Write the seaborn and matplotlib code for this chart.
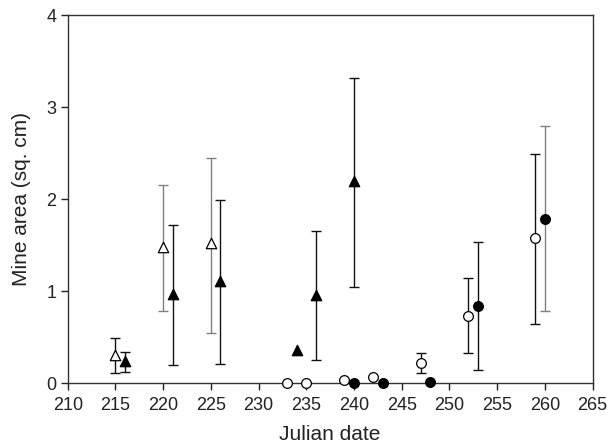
import matplotlib
matplotlib.use("Agg")
import matplotlib.pyplot as plt
import seaborn as sns
import pandas as pd
import numpy as np

# Open triangles
ot_x = [215, 220, 225]
ot_y = [0.31, 1.48, 1.52]
ot_lo = [0.11, 0.79, 0.55]
ot_hi = [0.49, 2.16, 2.45]

# Filled triangles
ft_x = [216, 221, 226, 234, 236, 240]
ft_y = [0.24, 0.97, 1.11, 0.36, 0.96, 2.20]
ft_lo = [0.12, 0.20, 0.21, 0.36, 0.25, 1.05]
ft_hi = [0.34, 1.72, 1.99, 0.36, 1.65, 3.32]

# Open circles
oc_x = [233, 235, 239, 242, 247, 252, 259]
oc_y = [0.0, 0.0, 0.04, 0.07, 0.22, 0.73, 1.58]
oc_lo = [0.0, 0.0, 0.04, 0.07, 0.11, 0.33, 0.65]
oc_hi = [0.0, 0.0, 0.04, 0.07, 0.33, 1.14, 2.49]

# Filled circles
fc_x = [240, 243, 248, 253, 260]
fc_y = [0.0, 0.0, 0.01, 0.84, 1.79]
fc_lo = [0.0, 0.0, 0.01, 0.15, 0.79]
fc_hi = [0.0, 0.0, 0.01, 1.54, 2.80]

x_ticks = list(range(210, 266, 5))
y_ticks = [0, 1, 2, 3, 4]

sns.set_style("ticks")
plt.rcParams['font.family'] = ['Liberation Sans', 'DejaVu Sans']

fig = plt.figure(figsize=(6.11, 4.47), dpi=100)
ax = fig.add_axes([0.1108, 0.1425, 0.859, 0.8233])

series = [
    ("ot", ot_x, ot_y, ot_lo, ot_hi, "^", "white", ["#111111", "#808080", "#808080"], 7.5),
    ("ft", ft_x, ft_y, ft_lo, ft_hi, "^", "black", ["#111111"] * 6, 7.5),
    ("oc", oc_x, oc_y, oc_lo, oc_hi, "o", "white", ["#111111"] * 7, 7),
    ("fc", fc_x, fc_y, fc_lo, fc_hi, "o", "black", ["#111111", "#111111", "#111111", "#111111", "#808080"], 7),
]

for name, xs, ys, lo, hi, mk, fcol, ecols, ms in series:
    df = pd.DataFrame({"x": xs, "y": ys, "lo": lo, "hi": hi})
    for i, r in df.iterrows():
        if r["hi"] > r["lo"]:
            ax.errorbar(r["x"], r["y"], yerr=[[r["y"] - r["lo"]], [r["hi"] - r["y"]]],
                        fmt="none", ecolor=ecols[i], elinewidth=1.0, capsize=3.5,
                        capthick=1.0, zorder=2)
    sns.scatterplot(data=df, x="x", y="y", marker=mk, s=ms ** 2, color=fcol,
                    edgecolor="black", linewidth=0.9, ax=ax, zorder=3, clip_on=False)

ax.set_xlim(210, 265)
ax.set_ylim(0, 4)
ax.set_xticks(x_ticks)
ax.set_yticks(y_ticks)
ax.set_xlabel("Julian date", fontsize=15, color="#222222", labelpad=8)
ax.set_ylabel("Mine area (sq. cm)", fontsize=15, color="#222222", labelpad=11)
ax.tick_params(axis="both", labelsize=13, colors="#222222", direction="out", length=5, width=1)
ax.tick_params(axis="x", pad=5)
ax.tick_params(axis="y", pad=3)
for s in ["top", "right", "left", "bottom"]:
    ax.spines[s].set_visible(True)
    ax.spines[s].set_color("#333333")
    ax.spines[s].set_linewidth(1)

fig.savefig("out.png", dpi=100)
